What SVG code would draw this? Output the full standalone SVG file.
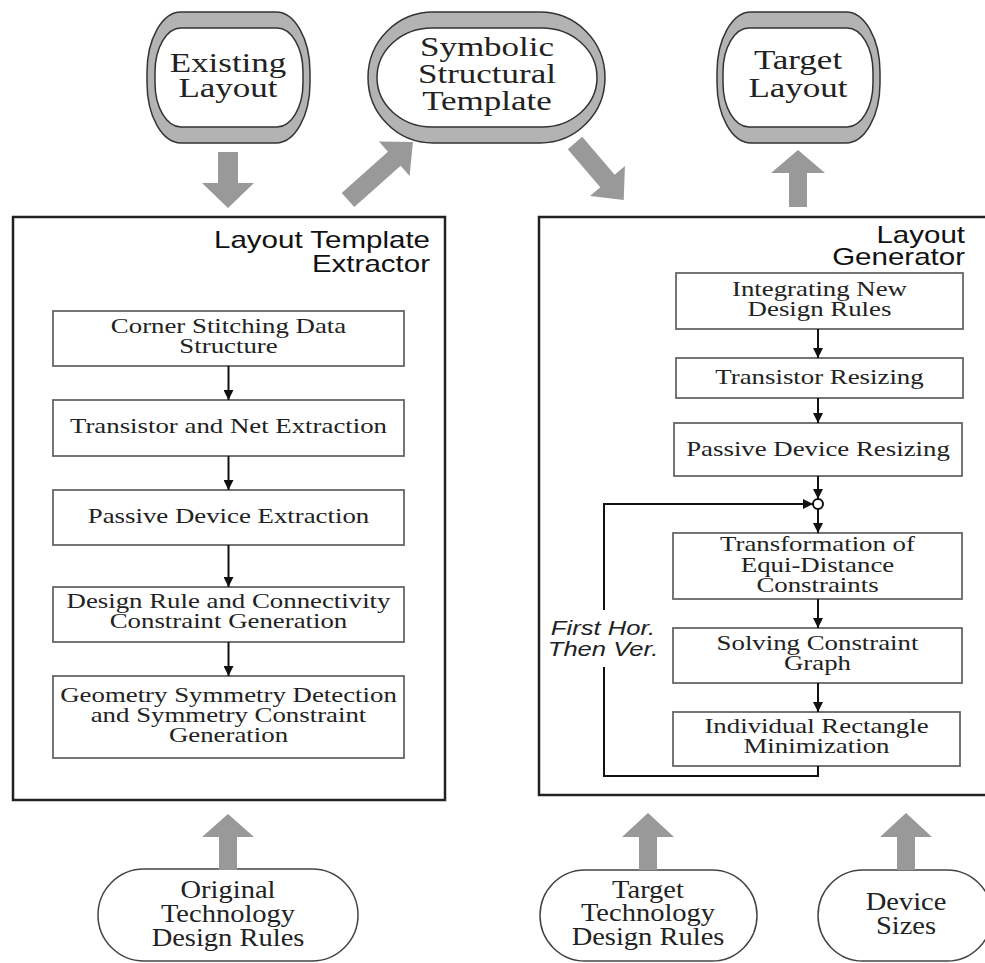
<svg xmlns="http://www.w3.org/2000/svg" width="985" height="963" viewBox="0 0 985 963">
<defs>
<style>
.bg{fill:#fff}
.outer{fill:#b3b3b3;stroke:#333;stroke-width:1.5}
.inner{fill:#fff;stroke:#333;stroke-width:1.5}
.oval{fill:#fff;stroke:#444;stroke-width:1.5}
.frame{fill:none;stroke:#222;stroke-width:2.5}
.box{fill:#fff;stroke:#666;stroke-width:1.8}
.big{font-family:"Liberation Serif","Times New Roman",serif;font-size:28px;fill:#222;text-anchor:middle}
.mid{font-family:"Liberation Serif","Times New Roman",serif;font-size:25px;fill:#222;text-anchor:middle}
.t{font-family:"Liberation Serif","Times New Roman",serif;font-size:22px;fill:#222;text-anchor:middle}
.title{font-family:"Liberation Sans",Arial,sans-serif;font-size:24px;fill:#111;text-anchor:end}
.ital{font-family:"Liberation Sans",Arial,sans-serif;font-size:20px;font-style:italic;fill:#222;text-anchor:middle}
.fat{fill:#999;stroke:none}
.ln{fill:none;stroke:#111;stroke-width:2}
</style>
<marker id="ah" viewBox="0 0 10 10" refX="10" refY="5" markerWidth="10" markerHeight="10" markerUnits="userSpaceOnUse" orient="auto">
<path d="M0,0 L10,5 L0,10 z" fill="#111"/>
</marker>
<polygon id="fatArrow" points="0,-9.5 0,9.5 0,9.5"/>
</defs>
<rect class="bg" x="0" y="0" width="985" height="963"/>

<g id="existing-layout">
<rect class="outer" x="147" y="12" width="163" height="131" rx="34" ry="60"/>
<rect class="inner" x="155" y="28" width="148" height="99" rx="26" ry="44"/>
<text class="big" transform="translate(228 0) scale(1.25 1)"><tspan x="0" y="72">Existing</tspan><tspan x="0" y="97">Layout</tspan></text>
</g>

<g id="symbolic-structural-template">
<rect class="outer" x="368" y="12" width="237" height="131" rx="65" ry="65.5"/>
<rect class="inner" x="377" y="28" width="220" height="99" rx="55" ry="49.5"/>
<text class="big" transform="translate(487 0) scale(1.25 1)"><tspan x="0" y="56">Symbolic</tspan><tspan x="0" y="83">Structural</tspan><tspan x="0" y="110">Template</tspan></text>
</g>

<g id="target-layout">
<rect class="outer" x="717" y="12" width="163" height="131" rx="34" ry="60"/>
<rect class="inner" x="723" y="28" width="150" height="99" rx="26" ry="44"/>
<text class="big" transform="translate(798 0) scale(1.25 1)"><tspan x="0" y="69">Target</tspan><tspan x="0" y="97">Layout</tspan></text>
</g>

<g id="layout-template-extractor">
<rect class="frame" x="13" y="217" width="432" height="583"/>
<text class="title" transform="translate(430 0) scale(1.23 1)"><tspan x="0" y="248">Layout Template</tspan><tspan x="0" y="272">Extractor</tspan></text>
</g>

<g id="corner-stitching">
<rect class="box" x="53" y="311" width="351" height="55"/>
<text class="t" transform="translate(228.5 0) scale(1.22 1)"><tspan x="0" y="333">Corner Stitching Data</tspan><tspan x="0" y="353">Structure</tspan></text>
</g>
<g id="transistor-net-extraction">
<rect class="box" x="53" y="400" width="351" height="56"/>
<text class="t" transform="translate(228.5 0) scale(1.22 1)"><tspan x="0" y="433">Transistor and Net Extraction</tspan></text>
</g>
<g id="passive-device-extraction">
<rect class="box" x="53" y="490" width="351" height="55"/>
<text class="t" transform="translate(228.5 0) scale(1.22 1)"><tspan x="0" y="523">Passive Device Extraction</tspan></text>
</g>
<g id="design-rule-constraint">
<rect class="box" x="53" y="587" width="351" height="55"/>
<text class="t" transform="translate(228.5 0) scale(1.22 1)"><tspan x="0" y="608">Design Rule and Connectivity</tspan><tspan x="0" y="628">Constraint Generation</tspan></text>
</g>
<g id="symmetry-detection">
<rect class="box" x="53" y="676" width="351" height="82"/>
<text class="t" transform="translate(228.5 0) scale(1.22 1)"><tspan x="0" y="702">Geometry Symmetry Detection</tspan><tspan x="0" y="722">and Symmetry Constraint</tspan><tspan x="0" y="742">Generation</tspan></text>
</g>

<g id="layout-generator">
<rect class="frame" x="539" y="217" width="455" height="578"/>
<text class="title" transform="translate(965 0) scale(1.23 1)"><tspan x="0" y="243">Layout</tspan><tspan x="0" y="265">Generator</tspan></text>
</g>

<g id="integrating-rules">
<rect class="box" x="676" y="273" width="287" height="56"/>
<text class="t" transform="translate(819.5 0) scale(1.22 1)"><tspan x="0" y="296">Integrating New</tspan><tspan x="0" y="316">Design Rules</tspan></text>
</g>
<g id="transistor-resizing">
<rect class="box" x="676" y="358" width="287" height="40"/>
<text class="t" transform="translate(819.5 0) scale(1.22 1)"><tspan x="0" y="384">Transistor Resizing</tspan></text>
</g>
<g id="passive-resizing">
<rect class="box" x="674" y="423" width="288" height="53"/>
<text class="t" transform="translate(818 0) scale(1.22 1)"><tspan x="0" y="456">Passive Device Resizing</tspan></text>
</g>
<g id="junction">
<circle cx="818" cy="504" r="5" fill="#fff" stroke="#111" stroke-width="2"/>
</g>
<g id="transformation">
<rect class="box" x="673" y="533" width="289" height="66"/>
<text class="t" transform="translate(817.5 0) scale(1.22 1)"><tspan x="0" y="551">Transformation of</tspan><tspan x="0" y="572">Equi-Distance</tspan><tspan x="0" y="592">Constraints</tspan></text>
</g>
<g id="solving-graph">
<rect class="box" x="673" y="628" width="289" height="55"/>
<text class="t" transform="translate(817.5 0) scale(1.22 1)"><tspan x="0" y="650">Solving Constraint</tspan><tspan x="0" y="670">Graph</tspan></text>
</g>
<g id="rect-minimization">
<rect class="box" x="673" y="712" width="287" height="54"/>
<text class="t" transform="translate(816.5 0) scale(1.22 1)"><tspan x="0" y="733">Individual Rectangle</tspan><tspan x="0" y="753">Minimization</tspan></text>
</g>
<g id="loop-label">
<text class="ital" transform="translate(603 0) scale(1.28 1)"><tspan x="0" y="635">First Hor.</tspan><tspan x="0" y="656">Then Ver.</tspan></text>
</g>

<g id="original-rules">
<rect class="oval" x="98" y="869" width="260" height="92" rx="46" ry="46"/>
<text class="mid" transform="translate(228 0) scale(1.14 1)"><tspan x="0" y="898">Original</tspan><tspan x="0" y="922">Technology</tspan><tspan x="0" y="946">Design Rules</tspan></text>
</g>
<g id="target-rules">
<rect class="oval" x="540" y="870" width="217" height="91" rx="45" ry="45.5"/>
<text class="mid" transform="translate(648 0) scale(1.14 1)"><tspan x="0" y="898">Target</tspan><tspan x="0" y="921">Technology</tspan><tspan x="0" y="945">Design Rules</tspan></text>
</g>
<g id="device-sizes">
<rect class="oval" x="818" y="870" width="174" height="91" rx="45" ry="45.5"/>
<text class="mid" transform="translate(906 0) scale(1.14 1)"><tspan x="0" y="910">Device</tspan><tspan x="0" y="934">Sizes</tspan></text>
</g>

<g id="connectors">
<!-- big gray arrows -->
<polygon class="fat" points="218,152 238,152 238,183 254,183 228,208 202,183 218,183"/>
<polygon class="fat" transform="translate(348 200) rotate(-41.7)" points="0,-9.5 62,-9.5 62,-23 87,0 62,23 62,9.5 0,9.5"/>
<polygon class="fat" transform="translate(575 143) rotate(49.5)" points="0,-9.5 50,-9.5 50,-23 75,0 50,23 50,9.5 0,9.5"/>
<polygon class="fat" points="789,207 807,207 807,173 825,173 798,150 771,173 789,173"/>
<polygon class="fat" points="219,870 237,870 237,837 254,837 228,814 202,837 219,837"/>
<polygon class="fat" points="639,870 657,870 657,837 674,837 648,813 622,837 639,837"/>
<polygon class="fat" points="897,870 915,870 915,837 932,837 906,813 880,837 897,837"/>
<!-- left chain -->
<line class="ln" x1="228.5" y1="366" x2="228.5" y2="400" marker-end="url(#ah)"/>
<line class="ln" x1="228.5" y1="456" x2="228.5" y2="490" marker-end="url(#ah)"/>
<line class="ln" x1="228.5" y1="545" x2="228.5" y2="587" marker-end="url(#ah)"/>
<line class="ln" x1="228.5" y1="642" x2="228.5" y2="676" marker-end="url(#ah)"/>
<!-- right chain -->
<line class="ln" x1="818" y1="329" x2="818" y2="358" marker-end="url(#ah)"/>
<line class="ln" x1="818" y1="398" x2="818" y2="423" marker-end="url(#ah)"/>
<line class="ln" x1="818" y1="476" x2="818" y2="499" marker-end="url(#ah)"/>
<line class="ln" x1="818" y1="509" x2="818" y2="533" marker-end="url(#ah)"/>
<line class="ln" x1="818" y1="599" x2="818" y2="628" marker-end="url(#ah)"/>
<line class="ln" x1="818" y1="683" x2="818" y2="712" marker-end="url(#ah)"/>
<!-- loop -->
<polyline class="ln" points="818,766 818,776 604,776 604,667"/>
<polyline class="ln" points="604,610 604,504 813,504" marker-end="url(#ah)"/>
</g>
</svg>
